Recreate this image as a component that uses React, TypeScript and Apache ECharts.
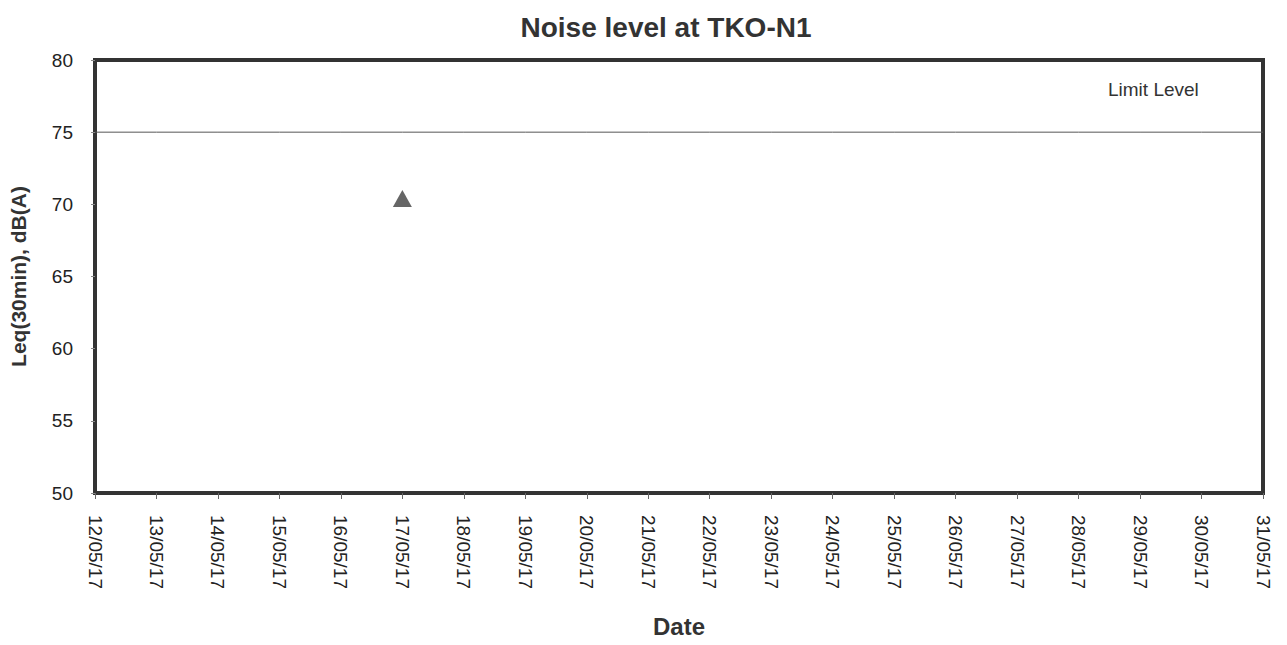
import React, { useEffect, useRef } from "react";
import * as echarts from "echarts";

const dates = [
  "12/05/17", "13/05/17", "14/05/17", "15/05/17", "16/05/17", "17/05/17", "18/05/17",
  "19/05/17", "20/05/17", "21/05/17", "22/05/17", "23/05/17", "24/05/17", "25/05/17",
  "26/05/17", "27/05/17", "28/05/17", "29/05/17", "30/05/17", "31/05/17",
];
const noiseLevels: (number | null)[] = [
  null, null, null, null, null, 70.4, null, null, null, null,
  null, null, null, null, null, null, null, null, null, null,
];
const limitLevel: number[] = dates.map(() => 75);
const yTicks = { min: 50, max: 80, interval: 5 };

export default function App() {
  const ref = useRef<HTMLDivElement>(null);
  useEffect(() => {
    if (!ref.current) return;
    const chart = echarts.init(ref.current, undefined, { renderer: "svg" });
    const font = "Liberation Sans, Arial, sans-serif";
    chart.setOption({
      animation: false,
      backgroundColor: "#ffffff",
      title: {
        text: "Noise level at TKO-N1",
        left: 661,
        textAlign: "center",
        top: 8,
        textStyle: { fontFamily: font, fontSize: 28, fontWeight: "bold", color: "#333" },
      },
      grid: {
        left: 95,
        right: 24,
        top: 60,
        bottom: 152,
        show: true,
        borderColor: "#333",
        borderWidth: 4,
        backgroundColor: "transparent",
        outerBoundsMode: "none",
        containLabel: false,
      },
      xAxis: {
        type: "category",
        data: dates,
        boundaryGap: false,
        name: "Date",
        nameLocation: "middle",
        nameGap: 121,
        nameTextStyle: { fontFamily: font, fontSize: 24, fontWeight: "bold", color: "#333" },
        axisLine: { show: true, lineStyle: { color: "#333", width: 4 } },
        axisTick: { show: true, length: 6, lineStyle: { color: "#666" } },
        axisLabel: { rotate: -90, fontFamily: font, fontSize: 19, color: "#222", margin: 22 },
        splitLine: { show: false },
      },
      yAxis: {
        type: "value",
        min: yTicks.min,
        max: yTicks.max,
        interval: yTicks.interval,
        name: "Leq(30min), dB(A)",
        nameLocation: "middle",
        nameGap: 66,
        nameTextStyle: { fontFamily: font, fontSize: 21, fontWeight: "bold", color: "#333" },
        axisLine: { show: true, lineStyle: { color: "#333", width: 4 } },
        axisTick: { show: true, length: 4, lineStyle: { color: "#888" } },
        axisLabel: { fontFamily: font, fontSize: 19, color: "#222", margin: 22 },
        splitLine: { show: false },
      },
      series: [
        {
          name: "Limit Level",
          type: "line",
          data: limitLevel,
          symbol: "none",
          lineStyle: { color: "#555", width: 1 },
        },
        {
          name: "Noise",
          type: "line",
          data: noiseLevels,
          symbol: "triangle",
          symbolSize: [19, 17],
          itemStyle: { color: "#666" },
          lineStyle: { width: 0 },
        },
      ],
      graphic: [
        {
          type: "text",
          left: 1108,
          top: 80,
          style: { text: "Limit Level", fontFamily: font, fontSize: 19, fill: "#333" },
        },
      ],
    });
    return () => chart.dispose();
  }, []);
  return <div ref={ref} style={{ width: 1287, height: 645, position: "absolute", left: 0, top: 0 }} />;
}
